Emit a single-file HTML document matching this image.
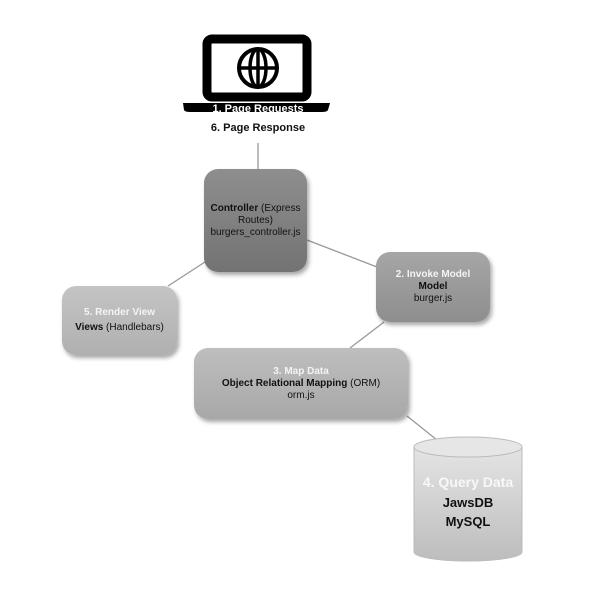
<!DOCTYPE html>
<html><head><style>
body{margin:0;background:#fff;width:589px;height:594px;position:relative;overflow:hidden;font-family:"Liberation Sans",sans-serif}
.b{position:absolute;border-radius:14px;box-shadow:2px 3px 4px rgba(0,0,0,.35);text-align:center;font-size:10px;color:#111;display:flex;flex-direction:column;justify-content:center;line-height:12px}
.w{color:#f4f4f4;font-weight:bold}
</style></head><body>
<svg width="589" height="594" style="position:absolute;left:0;top:0">
<defs>
<linearGradient id="cg" x1="0" y1="0" x2="0" y2="1"><stop offset="0" stop-color="#e4e4e4"/><stop offset="1" stop-color="#bdbdbd"/></linearGradient>
</defs>
<g stroke="#999" stroke-width="1.3">
<line x1="258" y1="143" x2="258" y2="169"/>
<line x1="307" y1="240" x2="377" y2="267"/>
<line x1="205" y1="262" x2="168" y2="286"/>
<line x1="384" y1="322" x2="350" y2="348"/>
<line x1="407" y1="416" x2="437" y2="440"/>
</g>
<rect x="207" y="39" width="100" height="58" rx="5" fill="#fff" stroke="#000" stroke-width="9"/>
<path d="M183 103 H330 L328 110 Q327 112 322 112 H190 Q185 112 184 110 Z" fill="#000"/>
<circle cx="258" cy="68" r="19" fill="none" stroke="#000" stroke-width="4"/>
<ellipse cx="258" cy="68" rx="8" ry="19" fill="none" stroke="#000" stroke-width="3.5"/>
<line x1="239" y1="68" x2="277" y2="68" stroke="#000" stroke-width="3.5"/>
<line x1="258" y1="49" x2="258" y2="87" stroke="#000" stroke-width="3.5"/>
<path d="M414 447 V552 A54 9 0 0 0 522 552 V447" fill="url(#cg)" stroke="#bbb"/>
<ellipse cx="468" cy="447" rx="54" ry="10" fill="#e6e6e6" stroke="#bbb"/>
<text x="258" y="112" font-size="11" font-weight="bold" fill="#fff" text-anchor="middle" font-family="Liberation Sans">1. Page Requests</text>
<text x="258" y="131" font-size="11" font-weight="bold" fill="#111" text-anchor="middle" font-family="Liberation Sans">6. Page Response</text>
<text x="468" y="487" font-size="14" font-weight="bold" fill="#f8f8f8" text-anchor="middle" font-family="Liberation Sans">4. Query Data</text>
<text x="468" y="507" font-size="13" font-weight="bold" fill="#111" text-anchor="middle" font-family="Liberation Sans">JawsDB</text>
<text x="468" y="526" font-size="13" font-weight="bold" fill="#111" text-anchor="middle" font-family="Liberation Sans">MySQL</text>
</svg>
<div class="b" style="left:204px;top:169px;width:103px;height:103px;background:linear-gradient(#8e8e8e,#737373)"><div><b>Controller</b> (Express Routes) burgers_controller.js</div></div>
<div class="b" style="left:376px;top:252px;width:114px;height:70px;background:linear-gradient(#a6a6a6,#8e8e8e)"><div class="w">2. Invoke Model</div><div><b>Model</b></div><div>burger.js</div></div>
<div class="b" style="left:62px;top:286px;width:115px;height:69px;background:linear-gradient(#c4c4c4,#b0b0b0)"><div class="w">5. Render View</div><div style="margin-top:3px"><b>Views</b> (Handlebars)</div></div>
<div class="b" style="left:194px;top:348px;width:214px;height:71px;background:linear-gradient(#bebebe,#a8a8a8)"><div class="w">3. Map Data</div><div><b>Object Relational Mapping</b> (ORM)</div><div>orm.js</div></div>
</body></html>
